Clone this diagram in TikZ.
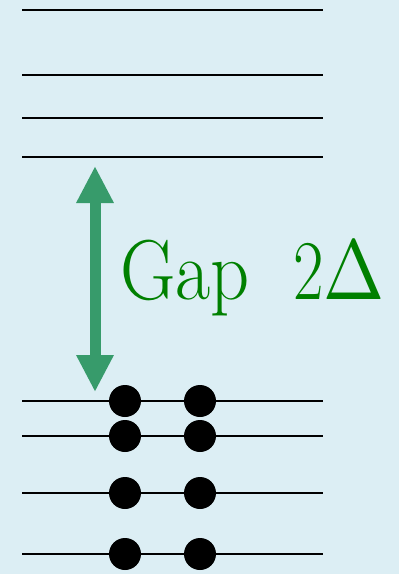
\documentclass[tikz,border=0pt]{standalone}
\usetikzlibrary{arrows.meta}
\definecolor{paper}{HTML}{DCEEF4}
\definecolor{arrowgreen}{HTML}{379B6B}
\definecolor{textgreen}{HTML}{008000}
\tikzset{
  level/.style={draw=black,line width=2pt},
  electron/.style={circle,fill=black,minimum size=32pt,inner sep=0pt},
  gaparrow/.style={{Triangle[length=37pt,width=35pt]}-{Triangle[length=37pt,width=35pt]},line width=11pt,draw=arrowgreen},
  gaptext/.style={text=textgreen,inner sep=0pt,font=\rmfamily\fontsize{85}{85}\selectfont}
}
\begin{document}
\begin{tikzpicture}[x=1pt,y=-1pt]
\fill[paper] (0,0) rectangle (399,574);
\useasboundingbox (0,0) rectangle (399,574);
% empty levels
\foreach \y in {10,75,118,157}
  \draw[level] (22,\y) -- (323,\y);
% filled levels
\foreach \y [count=\i] in {401,436,493,554} {
  \draw[level] (22,\y) -- (323,\y);
  \node[electron] (left-\i) at (125,\y) {};
  \node[electron] (right-\i) at (200,\y) {};
}
% gap
\coordinate (top) at (95,166);
\coordinate (bottom) at (95,392);
\draw[gaparrow] (top) -- (bottom);
\node[gaptext,anchor=base west] (gap) at (120,299) {\scalebox{0.9}[1]{Gap}};
\node[gaptext,anchor=base west] (delta) at (293,299) {\scalebox{0.78}[1]{2\scalebox{9.4}[8.5]{\fontsize{10}{12}\selectfont$\Delta$}}};
\end{tikzpicture}
\end{document}
